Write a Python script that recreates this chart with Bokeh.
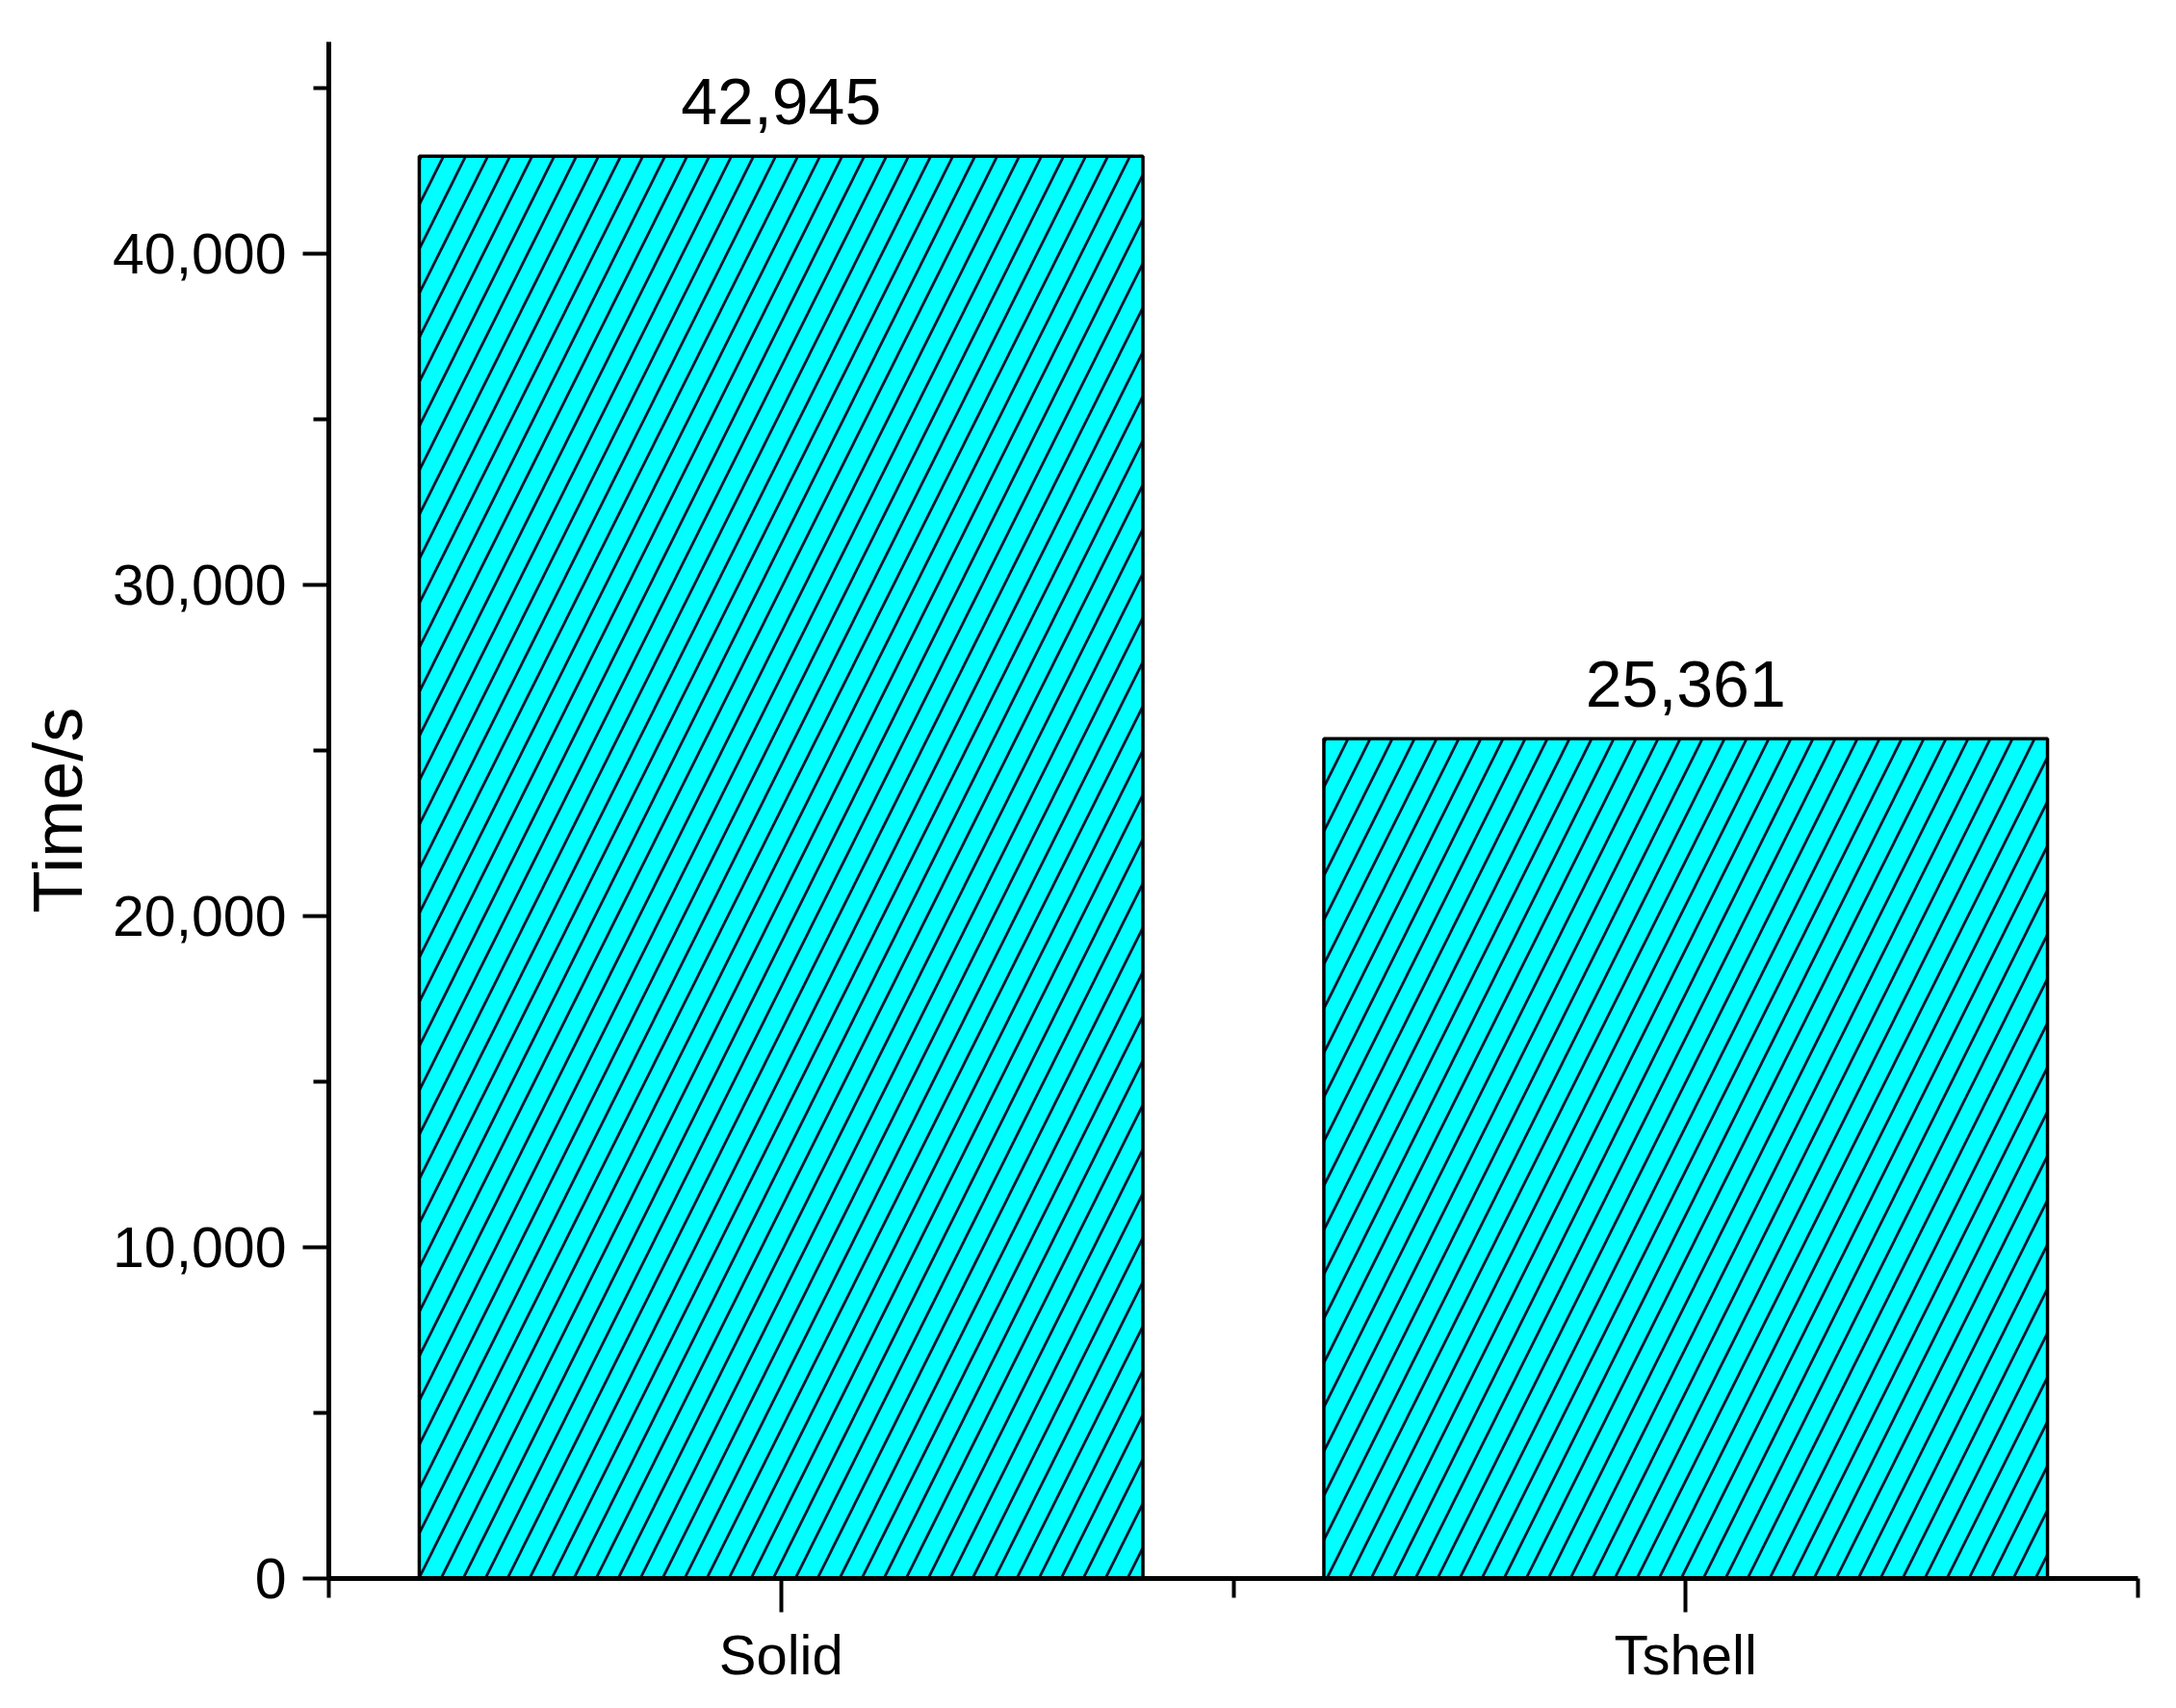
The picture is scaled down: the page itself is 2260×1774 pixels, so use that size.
from bokeh.plotting import figure
from bokeh.models import ColumnDataSource, Range1d, FixedTicker, NumeralTickFormatter, LabelSet
from bokeh.core.properties import value
from bokeh.embed import file_html
from bokeh.resources import INLINE

categories = ["Solid", "Tshell"]
times = [42945, 25361]
y_major = [0, 10000, 20000, 30000, 40000]
y_minor = [5000, 15000, 25000, 35000, 45000]
y_label = "Time/s"

xs = [i + 0.5 for i in range(len(categories))]
src = ColumnDataSource(dict(x=xs, top=times, label=[f"{v:,}" for v in times]))

FONT = "Liberation Sans"

p = figure(width=2244, height=1758, x_range=Range1d(0, len(categories)), y_range=Range1d(0, 46400),
           output_backend="svg", toolbar_location=None,
           min_border_left=341, min_border_right=24, min_border_top=43, min_border_bottom=119)
p.outline_line_color = None
p.grid.visible = False
p.background_fill_color = "white"

p.vbar(x="x", top="top", bottom=0, width=0.8, source=src,
       fill_color="#00FFFF", line_color="black", line_width=3.5,
       hatch_pattern="/", hatch_color="#0c1530", hatch_weight=2.8, hatch_scale=46)

labels = LabelSet(x="x", y="top", text="label", source=src, text_align="center",
                  text_baseline="alphabetic", y_offset=33, text_font=value(FONT),
                  text_font_size="68px", text_color="black")
p.add_layout(labels)

# x axis
xa = p.xaxis[0]
xa.ticker = FixedTicker(ticks=xs, minor_ticks=[float(i) for i in range(len(categories) + 1)])
xa.major_label_overrides = {x: c for x, c in zip(xs, categories)}
xa.axis_line_width = 5
xa.major_tick_line_width = 4
xa.minor_tick_line_width = 4
xa.major_tick_in = 0
xa.major_tick_out = 35
xa.minor_tick_in = 0
xa.minor_tick_out = 20
xa.major_label_text_font = FONT
xa.major_label_text_font_size = "58px"
xa.major_label_text_color = "black"
xa.major_label_standoff = 11

# y axis
ya = p.yaxis[0]
ya.ticker = FixedTicker(ticks=y_major, minor_ticks=y_minor)
ya.formatter = NumeralTickFormatter(format="0,0")
ya.axis_line_width = 5
ya.major_tick_line_width = 4
ya.minor_tick_line_width = 4
ya.major_tick_in = 0
ya.major_tick_out = 27
ya.minor_tick_in = 0
ya.minor_tick_out = 16
ya.major_label_text_font = FONT
ya.major_label_text_font_size = "59px"
ya.major_label_text_color = "black"
ya.major_label_standoff = 17
ya.axis_label = y_label
ya.axis_label_text_font = FONT
ya.axis_label_text_font_size = "72px"
ya.axis_label_text_font_style = "normal"
ya.axis_label_text_color = "black"
ya.axis_label_standoff = 14

open("out.html", "w").write(file_html(p, INLINE))
